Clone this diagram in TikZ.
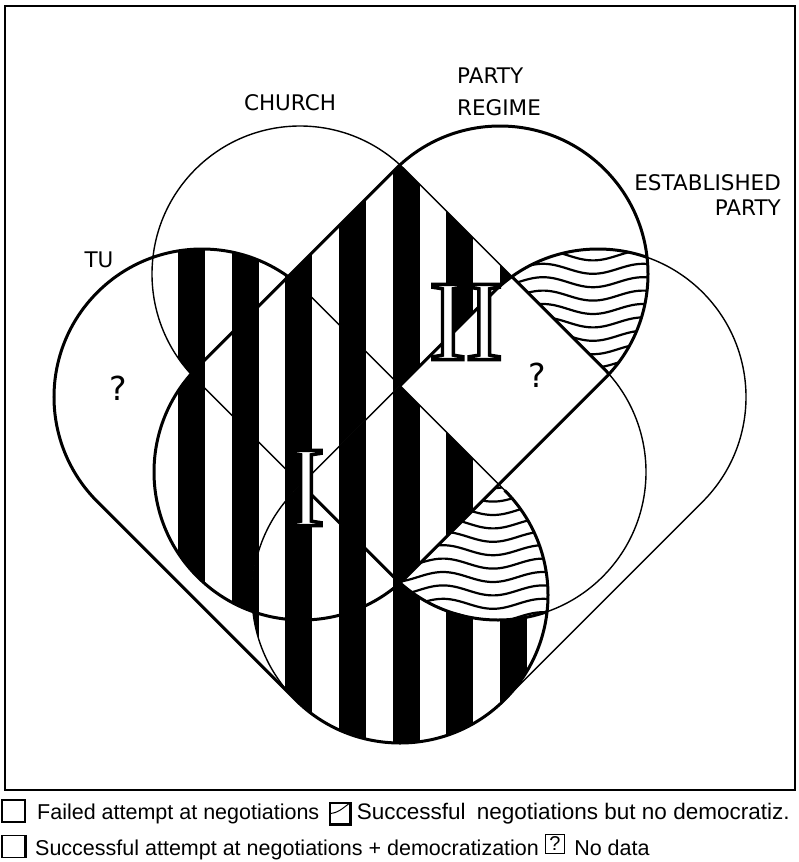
\documentclass[tikz,border=0pt]{standalone}
\usepackage{fontspec}
\setmainfont{Liberation Sans}
\newfontfamily\labelfont{DejaVu Sans}
\newfontfamily\numfont{Liberation Serif}
\usetikzlibrary{positioning}

\tikzset{
    thin set/.style={line width=1.4pt},
    bold set/.style={line width=3pt},
    % a set from the centre of its upper round end, going down to the right
    falling set/.style={insert path={#1 ++(-45:148pt) -- ++(198,198)
        arc[start angle=-45,end angle=135,radius=148pt] -- ++(-198,-198)
        arc[start angle=135,end angle=315,radius=148pt] -- cycle}},
    % the same, going down to the left
    rising set/.style={insert path={#1 ++(45:148pt) -- ++(-198,198)
        arc[start angle=45,end angle=225,radius=148pt] -- ++(198,-198)
        arc[start angle=225,end angle=405,radius=148pt] -- cycle}},
    set label/.style={font=\labelfont\fontsize{21.5}{26}\selectfont, inner sep=0pt},
    no data/.style={font=\labelfont\fontsize{33}{36}\selectfont, inner sep=0pt},
    numeral/.style={font=\numfont\fontsize{115}{115}\selectfont, inner sep=0pt, text=white},
    legend text/.style={font=\fontsize{21.5}{25}\selectfont, inner sep=0pt},
    legend box/.style={draw, line width=1.2pt, minimum width=23pt, minimum height=22pt, inner sep=0pt},
    wave line/.style={line width=2.2pt},
}

% white letters with a black rim
\newcommand{\rimmed}[1]{\special{pdf:literal direct 2 Tr 3.4 w 0 G}#1\special{pdf:literal direct 0 Tr}}
\newcommand{\stripefill}{%
    \foreach \k in {-1,...,8} {\fill ({178+53.67*\k},100) rectangle ++(27,700);}}
\newcommand{\wavefill}{%
    \fill[white] (0,0) rectangle (799,862);
    \foreach \k in {0,...,36} {\draw[wave line] plot[domain=380:700, samples=65, smooth] (\x,{175+13.4*\k+5*cos(3.6*(\x-593))});}}

\begin{document}
\begin{tikzpicture}[x=1pt, y=1pt, yscale=-1]
    \useasboundingbox (0,0) rectangle (799,862);
    % centres of the upper round ends
    \coordinate (T1) at (202,397);
    \coordinate (T2) at (400,595);
    \coordinate (C1) at (300,274);
    \coordinate (P1) at (500,274);
    \coordinate (E1) at (598,397);

    % stripes
    \begin{scope}
        \clip[falling set=(T1)];
        \clip[falling set=(C1)];
        \stripefill
    \end{scope}
    \begin{scope}
        \clip[falling set=(T1)];
        \clip[rising set=(P1)];
        \stripefill
    \end{scope}
    \begin{scope}
        \clip[falling set=(T1)];
        \clip[rising set=(E1)];
        \stripefill
    \end{scope}
    \begin{scope}
        \clip[falling set=(C1)];
        \clip[rising set=(P1)];
        \stripefill
    \end{scope}

    % waves
    \begin{scope}
        \clip[rising set=(P1)];
        \clip[rising set=(E1)];
        \wavefill
    \end{scope}
    \begin{scope}
        \clip[falling set=(T1)];
        \clip[falling set=(C1)];
        \clip[rising set=(E1)];
        \wavefill
    \end{scope}

    % church, party and established: no data
    \begin{scope}
        \clip[falling set=(C1)];
        \clip[rising set=(P1)];
        \clip[rising set=(E1)];
        \fill[white] (0,0) rectangle (799,862);
    \end{scope}
    \begin{scope}
        \clip[falling set=(T1)];
        \clip[rising set=(P1)];
        \clip[rising set=(E1)];
        \fill[white] (0,0) rectangle (799,862);
        \stripefill
    \end{scope}

    % outlines
    \draw[thin set, falling set=(C1)];
    \draw[thin set, rising set=(E1)];
    \draw[thin set, falling set=(T1)];
    \draw[bold set] (T2) ++(-45:148pt) arc[start angle=-45,end angle=135,radius=148pt]
        -- ++(-198,-198) arc[start angle=135,end angle=315,radius=148pt];
    \draw[bold set, rising set=(P1)];
    \begin{scope}
        \clip[rising set=(P1)];
        \clip[rising set=(E1)];
        \draw[bold set, falling set=(C1)];
    \end{scope}
    \begin{scope}
        \clip[rising set=(P1)];
        \clip (14,0) -- (799,0) -- (799,785) -- cycle;
        \draw[bold set, rising set=(E1)];
    \end{scope}
    \begin{scope}
        \clip[falling set=(T1)];
        \clip[rising set=(E1)];
        \clip (799,184) -- (799,862) -- (121,862) -- cycle;
        \draw[bold set, falling set=(C1)];
    \end{scope}

    \draw[line width=1.5pt] (5,6) rectangle (795,790);

    % set names
    \node[set label, anchor=base] (church) at (290,110) {CHURCH};
    \node[set label, anchor=base west] (party) at (457,83) {PARTY};
    \node[set label, anchor=base west] (regime) at (457,115) {REGIME};
    \node[set label, anchor=base east] (established) at (781,190) {ESTABLISHED};
    \node[set label, anchor=base east] (estparty) at (781,215) {PARTY};
    \node[set label, anchor=base] (tu) at (99,267) {TU};
    \node[no data, anchor=base] (q1) at (118,400) {?};
    \node[no data, anchor=base] (q2) at (537,387) {?};

    % roman numerals
    \node[numeral] (one) at (306,488) {\rimmed{I}};
    \node[numeral] (two) at (466,322) {\rimmed{I\kern-2pt I}};

    % legend
    \node[legend box] (failbox) at (13.5,811) {};
    \node[legend text, anchor=base west] (fail) at (37,819) {Failed attempt at negotiations};
    \node[legend box, minimum width=20pt, minimum height=21pt, right=10pt of fail] (halfbox) {};
    \draw[line width=1pt] (halfbox.west) .. controls +(8,0) and +(-8,6) .. (halfbox.north east);
    \draw[line width=2pt] (halfbox.north east) -- (halfbox.south east) -- (halfbox.south west);
    \node[legend text, font=\fontsize{22.5}{25}\selectfont, anchor=base west, xshift=6pt] (partial)
        at (halfbox.east |- fail.base) {Successful\hspace{0.5em}negotiations but no democratiz.};
    \node[legend box] (fullbox) at (13.5,846.5) {};
    \draw[line width=3pt] (fullbox.north east) -- (fullbox.south east);
    \node[legend text, anchor=base west] (full) at (35,855)
        {Successful attempt at negotiations + democratization};
    \node[legend box, minimum width=19pt, minimum height=19pt, font=\fontsize{20}{20}\selectfont] (qbox) at (555,844) {?};
    \node[legend text, anchor=base west, xshift=9pt] (nodata) at (qbox.east |- full.base) {No data};
\end{tikzpicture}
\end{document}
